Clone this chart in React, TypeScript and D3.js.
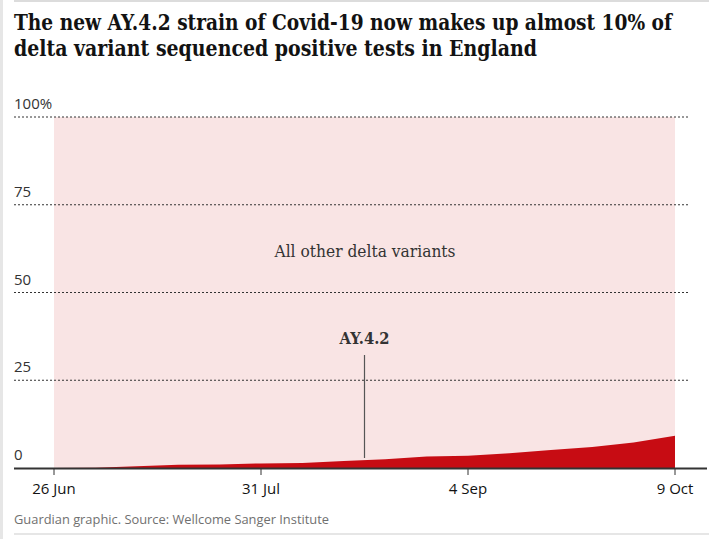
import { useEffect, useRef } from "react";
import * as d3 from "d3";

const dates = [
  "2021-06-26", "2021-07-03", "2021-07-10", "2021-07-17", "2021-07-24", "2021-07-31",
  "2021-08-07", "2021-08-14", "2021-08-21", "2021-08-28", "2021-09-04", "2021-09-11",
  "2021-09-18", "2021-09-25", "2021-10-02", "2021-10-09",
];
const ay42Share = [0, 0.1, 0.5, 0.9, 1.0, 1.3, 1.4, 2.0, 2.5, 3.3, 3.5, 4.2, 5.1, 6.0, 7.3, 9.2];
const yTicks = [0, 25, 50, 75, 100];
const xTickDates = ["2021-06-26", "2021-07-31", "2021-09-04", "2021-10-09"];
const xTickLabels = ["26 Jun", "31 Jul", "4 Sep", "9 Oct"];

export default function App() {
  const svgRef = useRef<SVGSVGElement | null>(null);

  useEffect(() => {
    if (!svgRef.current) return;
    const width = 725;
    const height = 539;
    const svg = d3.select(svgRef.current);
    svg.selectAll("*").remove();

    const parse = d3.timeParse("%Y-%m-%d");
    const data = dates.map((d, i) => ({ date: parse(d) as Date, v: ay42Share[i] }));

    const x = d3
      .scaleTime()
      .domain(d3.extent(data, (d) => d.date) as [Date, Date])
      .range([54, 675]);
    const y = d3.scaleLinear().domain([0, 100]).range([468, 117]);

    // frame
    svg.append("rect").attr("x", 0).attr("y", 0).attr("width", width).attr("height", height).attr("fill", "#fff");
    svg.append("rect").attr("x", 0).attr("y", 0).attr("width", 3).attr("height", height).attr("fill", "#e6e6e6");
    svg.append("rect").attr("x", 14).attr("y", 0).attr("width", 695).attr("height", 2).attr("fill", "#dcdcdc");
    svg.append("rect").attr("x", 14).attr("y", 533).attr("width", 695).attr("height", 2).attr("fill", "#e6e6e6");

    // title
    const titleLines = [
      "The new AY.4.2 strain of Covid-19 now makes up almost 10% of",
      "delta variant sequenced positive tests in England",
    ];
    const titleWidths = [658, 523];
    titleLines.forEach((t, i) => {
      svg
        .append("text")
        .attr("x", 14)
        .attr("y", 30 + i * 26)
        .attr("font-family", "'DejaVu Serif', serif")
        .attr("font-weight", "bold")
        .attr("font-size", 23)
        .attr("fill", "#121212")
        .attr("textLength", titleWidths[i])
        .attr("lengthAdjust", "spacingAndGlyphs")
        .text(t);
    });

    // pink background (all other delta variants)
    const full = d3
      .area<{ date: Date; v: number }>()
      .x((d) => x(d.date))
      .y0(y(0))
      .y1(y(100));
    svg.append("path").datum(data).attr("d", full).attr("fill", "#f9e4e4");

    // gridlines and y labels
    yTicks.forEach((t) => {
      if (t > 0) {
        svg
          .append("line")
          .attr("x1", 14)
          .attr("x2", 688)
          .attr("y1", y(t))
          .attr("y2", y(t))
          .attr("stroke", "#333")
          .attr("stroke-width", 1)
          .attr("stroke-dasharray", "2,2");
      }
      svg
        .append("text")
        .attr("x", 14)
        .attr("y", y(t) - 8)
        .attr("font-family", "'Open Sans', sans-serif")
        .attr("font-size", 15)
        .attr("fill", "#333")
        .text(t === 100 ? "100%" : String(t));
    });

    // AY.4.2 area
    const area = d3
      .area<{ date: Date; v: number }>()
      .x((d) => x(d.date))
      .y0(y(0))
      .y1((d) => y(d.v));
    svg.append("path").datum(data).attr("d", area).attr("fill", "#c70c13");

    // x axis
    svg
      .append("line")
      .attr("x1", 14)
      .attr("x2", 707)
      .attr("y1", 468.5)
      .attr("y2", 468.5)
      .attr("stroke", "#333")
      .attr("stroke-width", 2);
    xTickDates.forEach((d, i) => {
      const px = x(parse(d) as Date);
      svg
        .append("line")
        .attr("x1", px)
        .attr("x2", px)
        .attr("y1", 468)
        .attr("y2", 475)
        .attr("stroke", "#333")
        .attr("stroke-width", 1);
      svg
        .append("text")
        .attr("x", px)
        .attr("y", 494)
        .attr("text-anchor", "middle")
        .attr("font-family", "'Open Sans', sans-serif")
        .attr("font-size", 15)
        .attr("fill", "#121212")
        .text(xTickLabels[i]);
    });

    // labels
    svg
      .append("text")
      .attr("x", 365)
      .attr("y", 257)
      .attr("text-anchor", "middle")
      .attr("font-family", "'DejaVu Serif', serif")
      .attr("font-size", 16)
      .attr("fill", "#333")
      .attr("textLength", 181)
      .attr("lengthAdjust", "spacingAndGlyphs")
      .text("All other delta variants");

    const annX = x(d3.timeHour.offset(parse("2021-08-17") as Date, 12));
    svg
      .append("text")
      .attr("x", annX)
      .attr("y", 344)
      .attr("text-anchor", "middle")
      .attr("font-family", "'DejaVu Serif', serif")
      .attr("font-weight", "bold")
      .attr("font-size", 16)
      .attr("fill", "#333")
      .attr("textLength", 50)
      .attr("lengthAdjust", "spacingAndGlyphs")
      .text("AY.4.2");
    svg
      .append("line")
      .attr("x1", annX)
      .attr("x2", annX)
      .attr("y1", 355)
      .attr("y2", 458)
      .attr("stroke", "#555")
      .attr("stroke-width", 1.2);

    // source
    svg
      .append("text")
      .attr("x", 14)
      .attr("y", 524)
      .attr("font-family", "'Open Sans', sans-serif")
      .attr("font-size", 12.5)
      .attr("fill", "#707070")
      .attr("textLength", 315)
      .attr("lengthAdjust", "spacingAndGlyphs")
      .text("Guardian graphic. Source: Wellcome Sanger Institute");
  }, []);

  return (
    <div style={{ position: "absolute", left: 0, top: 0 }}>
      <svg ref={svgRef} width={725} height={539} viewBox="0 0 725 539" style={{ display: "block" }}></svg>
    </div>
  );
}
